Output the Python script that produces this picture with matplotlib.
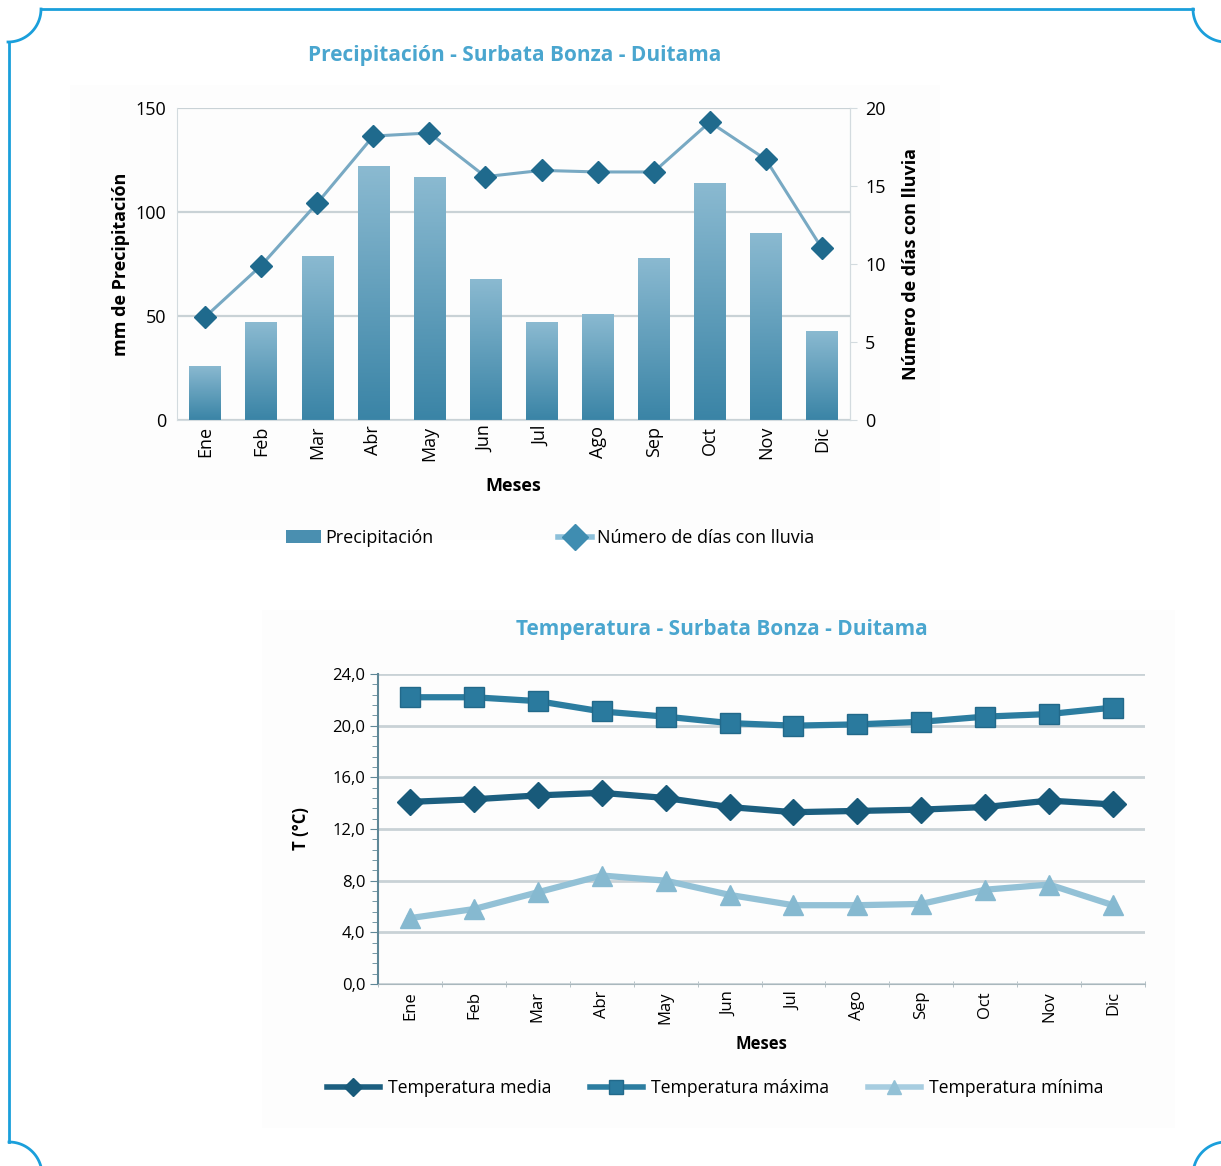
import numpy as np
import matplotlib
matplotlib.use("Agg")
import matplotlib.pyplot as plt
from matplotlib.colors import LinearSegmentedColormap
from matplotlib.lines import Line2D
from matplotlib.patches import Patch, Rectangle
from matplotlib.ticker import MultipleLocator, FixedLocator, FuncFormatter

plt.rcParams['font.family'] = ['Open Sans', 'DejaVu Sans']

# datos
meses = ["Ene", "Feb", "Mar", "Abr", "May", "Jun",
         "Jul", "Ago", "Sep", "Oct", "Nov", "Dic"]
precipitacion = [26, 47, 79, 122, 117, 68, 47, 51, 78, 114, 90, 43]
dias_lluvia = [6.6, 9.9, 13.9, 18.2, 18.4, 15.6, 16.0, 15.9, 15.9, 19.1, 16.7, 11.0]

temp_media = [14.1, 14.3, 14.6, 14.8, 14.4, 13.7, 13.3, 13.4, 13.5, 13.7, 14.2, 13.9]
temp_max = [22.2, 22.2, 21.9, 21.1, 20.7, 20.2, 20.0, 20.1, 20.3, 20.7, 20.9, 21.4]
temp_min = [5.1, 5.8, 7.1, 8.4, 8.0, 6.9, 6.1, 6.1, 6.2, 7.3, 7.7, 6.1]

W, H = 1221, 1166
fig = plt.figure(figsize=(W / 100, H / 100), dpi=100)


def px_rect(left, top, right, bottom):
    return [left / W, 1 - bottom / H, (right - left) / W, (bottom - top) / H]


# paneles de fondo muy tenues
for l, t, r_, b in [(70, 85, 940, 540), (262, 610, 1175, 1128)]:
    fig.patches.append(Rectangle((l / W, 1 - b / H), (r_ - l) / W, (b - t) / H,
                                 transform=fig.transFigure, facecolor="#fdfdfd",
                                 edgecolor="none", zorder=-2))

title_color = "#4aa6cf"
grid_color = "#c9d2d6"
x = np.arange(len(meses))

# ---------------- Precipitacion ----------------
ax1 = fig.add_axes(px_rect(177, 108, 850, 420))
ax1.patch.set_alpha(0)
bars = ax1.bar(x, precipitacion, width=0.56, color="none", zorder=2)
cmap = LinearSegmentedColormap.from_list("barras", ["#3a84a6", "#8bbad1"])
grad = np.linspace(0, 1, 256).reshape(-1, 1)
for b in bars:
    bx, by = b.get_x(), b.get_y()
    im = ax1.imshow(grad, cmap=cmap, origin="lower", aspect="auto",
                    extent=[bx, bx + b.get_width(), by, by + b.get_height()],
                    zorder=2)
    im.set_clip_path(b)
ax1.set_xlim(-0.5, 11.5)
ax1.set_ylim(0, 150)
ax1.set_yticks([0, 50, 100, 150])
ax1.yaxis.grid(True, color=grid_color, lw=1.6)
ax1.set_axisbelow(True)
ax1.set_xticks(x)
ax1.set_xticklabels(meses, rotation=90, fontsize=13)
ax1.tick_params(axis="x", length=0, pad=4)
ax1.tick_params(axis="y", length=0, pad=8, labelsize=13)
for s in ["left", "bottom", "right", "top"]:
    ax1.spines[s].set_color("#d3dbdf")
ax1.spines["top"].set_visible(False)
ax1.set_ylabel("mm de Precipitación", fontsize=13, fontweight="bold", labelpad=4)
ax1.set_xlabel("Meses", fontsize=13, fontweight="bold", labelpad=12)

ax1b = ax1.twinx()
ax1b.plot(x, dias_lluvia, color="#78a9c3", lw=2.2, marker="D", markersize=11,
          markerfacecolor="#1f6a8d", markeredgecolor="#1f6a8d", zorder=3)
ax1b.set_ylim(0, 20)
ax1b.set_yticks([0, 5, 10, 15, 20])
ax1b.tick_params(axis="y", length=5, color="#d3dbdf", pad=6, labelsize=13)
for s in ax1b.spines.values():
    s.set_visible(False)
ax1b.spines["right"].set_visible(True)
ax1b.spines["right"].set_color("#d3dbdf")
ax1b.set_ylabel("Número de días con lluvia", fontsize=13, fontweight="bold", labelpad=12)

fig.text(515 / W, 1 - 56 / H, "Precipitación - Surbata Bonza - Duitama",
         ha="center", va="center", fontsize=15, fontweight="bold", color=title_color)

h1 = [Patch(facecolor="#4a8fb0"),
      Line2D([], [], color="#8cc0da", lw=4, marker="D", markersize=13,
             markerfacecolor="#3f8db1", markeredgecolor="#3f8db1")]
fig.legend(h1, ["Precipitación", "Número de días con lluvia"], loc="center left",
           bbox_to_anchor=(270 / W, 1 - 538 / H), ncol=2, frameon=False,
           fontsize=13, handlelength=1.9, handletextpad=0.25, columnspacing=6.9)

# ---------------- Temperatura ----------------
ax2 = fig.add_axes(px_rect(378, 674, 1145, 984))
ax2.patch.set_alpha(0)
ax2.plot(x, temp_max, color="#2c7da0", lw=4.5, marker="s", markersize=15,
         markerfacecolor="#2a7a9e", markeredgecolor="#22698a", zorder=3,
         label="Temperatura máxima")
ax2.plot(x, temp_media, color="#1c5f80", lw=4.5, marker="D", markersize=13,
         markerfacecolor="#185a7a", markeredgecolor="#185a7a", zorder=3,
         label="Temperatura media")
ax2.plot(x, temp_min, color="#93c1d6", lw=4.5, marker="^", markersize=15,
         markerfacecolor="#86b9d0", markeredgecolor="#86b9d0", zorder=3,
         label="Temperatura mínima")
ax2.set_xlim(-0.5, 11.5)
ax2.set_ylim(0, 24)
ax2.set_yticks(np.arange(0, 25, 4))
ax2.yaxis.set_major_formatter(FuncFormatter(lambda v, p: f"{v:.1f}".replace(".", ",")))
ax2.yaxis.set_minor_locator(MultipleLocator(0.8))
ax2.yaxis.grid(True, color=grid_color, lw=2)
ax2.set_axisbelow(True)
ax2.set_xticks(x)
ax2.set_xticklabels(meses, rotation=90, fontsize=12)
ax2.xaxis.set_minor_locator(FixedLocator(np.arange(-0.5, 12, 1)))
ax2.tick_params(axis="x", which="major", length=0, pad=5)
ax2.tick_params(axis="x", which="minor", length=5, color="#a9b7bd", direction="inout")
ax2.tick_params(axis="y", which="major", length=6, color="#5e8797", labelsize=12, pad=3)
ax2.tick_params(axis="y", which="minor", length=4, color="#5e8797")
ax2.spines["top"].set_visible(False)
ax2.spines["right"].set_visible(False)
ax2.spines["left"].set_color("#5e8797")
ax2.spines["left"].set_linewidth(1.5)
ax2.spines["bottom"].set_color("#a9b7bd")
ax2.set_ylabel("T (°C)", fontsize=12, fontweight="bold", labelpad=16)
ax2.set_xlabel("Meses", fontsize=12, fontweight="bold", labelpad=8)

fig.text(722 / W, 1 - 630 / H, "Temperatura - Surbata Bonza - Duitama",
         ha="center", va="center", fontsize=15, fontweight="bold", color=title_color)

h2 = [Line2D([], [], color="#1c5f80", lw=4, marker="D", markersize=9,
             markerfacecolor="#185a7a", markeredgecolor="#185a7a"),
      Line2D([], [], color="#2c7da0", lw=4, marker="s", markersize=10,
             markerfacecolor="#2a7a9e", markeredgecolor="#22698a"),
      Line2D([], [], color="#a7cde0", lw=4, marker="^", markersize=10,
             markerfacecolor="#93c1d6", markeredgecolor="#93c1d6")]
fig.legend(h2, ["Temperatura media", "Temperatura máxima", "Temperatura mínima"],
           loc="center left", bbox_to_anchor=(311 / W, 1 - 1088 / H), ncol=3,
           frameon=False, fontsize=12.7, handlelength=3.0, handletextpad=0.45,
           columnspacing=2.2)

# ---------------- marco ----------------
axf = fig.add_axes([0, 0, 1, 1], zorder=-1)
axf.set_xlim(0, W)
axf.set_ylim(H, 0)
axf.axis("off")
r = 33
corners = [((8, 9), 0), ((1226, 9), 90), ((9, 1175), 270), ((1226, 1175), 180)]
for (cx, cy), a0 in corners:
    tt = np.radians(np.linspace(a0, a0 + 90, 40))
    axf.plot(cx + r * np.cos(tt), cy + r * np.sin(tt), color="#1a9fdb", lw=2)
axf.plot([8 + r, 1226 - r], [9, 9], color="#1a9fdb", lw=2)
axf.plot([9, 9], [9 + r, 1175 - r], color="#1a9fdb", lw=2)

fig.savefig("out.png", dpi=100)
